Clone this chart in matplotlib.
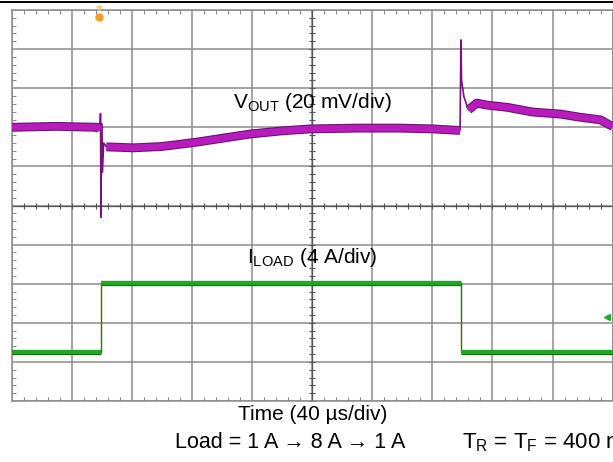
import numpy as np
import matplotlib
matplotlib.use("Agg")
import matplotlib.pyplot as plt
import matplotlib.patheffects as pe
from matplotlib.lines import Line2D

plt.rcParams['font.family'] = ['Liberation Sans', 'DejaVu Sans']
plt.rcParams['mathtext.default'] = 'regular'

# ---- scope settings (from the labels) ----
mv_per_div = 20     # VOUT channel
a_per_div = 4       # ILOAD channel
us_per_div = 40     # time base

# ---- VOUT trace (time in us, deviation in mV) ----
vout_t = [0, 30, 57.5, 58.7, 59.1, 59.4, 59.8, 60.4, 61.2, 63, 81, 100, 123, 140,
          159, 180, 199, 230, 258, 280, 298.4, 299.0, 299.4, 301, 304, 309.5,
          316, 330, 347, 365, 378, 392, 398, 400]
vout_mv = [0, 0.5, 0, -1.5, 7, -46, 2, -23, -8, -10, -10.5, -9.8, -7.6, -5.6,
           -3.4, -1.8, -0.8, -0.4, -0.4, -0.8, -1.6, 44.7, 24, 15.6, 8.9, 12.4,
           11.4, 10.2, 7.8, 6.8, 5.2, 3.8, 1.2, 0.5]

# ---- ILOAD trace (time in us, current in A) ----
iload_t = [0, 59.2, 59.2, 299.0, 299.0, 400]
iload_a = [1, 1, 8, 8, 1, 1]

step_times = [59.2, 299.0]

fig = plt.figure(figsize=(6.13, 4.62), dpi=100)
ax = fig.add_axes([0.0191, 0.132, 0.9804, 0.8463])

# channel offsets: VOUT 0 mV at 7 div, ILOAD 0 A at 1.01 div
ax.set_xlim(0, 10 * us_per_div)
ax.set_ylim(-7 * mv_per_div, 3 * mv_per_div)

grid_col = '#8c8c8c'
ax.set_xticks(np.arange(0, 401, us_per_div))
ax.set_yticks(np.arange(-140, 61, mv_per_div))
ax.set_xticks(np.arange(0, 401, us_per_div / 5), minor=True)
ax.set_yticks(np.arange(-140, 61, mv_per_div / 5), minor=True)
ax.tick_params(which='both', direction='in', top=True, right=True,
               labelbottom=False, labelleft=False, color=grid_col)
ax.tick_params(which='major', length=0)
ax.tick_params(which='minor', length=3, width=0.8)
ax.grid(True, which='major', color=grid_col, lw=1.1)
ax.set_axisbelow(True)
for s in ax.spines.values():
    s.set_color(grid_col)
    s.set_linewidth(1.1)

# center cross with small ticks
cx = 5 * us_per_div
cy = -2 * mv_per_div
ax.axvline(cx, color='#555555', lw=0.9, zorder=1)
ax.axhline(cy, color='#555555', lw=0.9, zorder=1)
xs = np.arange(0, 401, us_per_div / 5)
ys = np.arange(-140, 61, mv_per_div / 5)
ax.plot(xs, [cy] * len(xs), ls='none', marker='|', ms=4, color='#555555', mew=0.8, zorder=1)
ax.plot([cx] * len(ys), ys, ls='none', marker='_', ms=4, color='#555555', mew=0.8, zorder=1)

# VOUT: thin line for the whole trace, thick band away from the spikes
vt = np.array(vout_t, dtype=float)
vm = np.array(vout_mv, dtype=float)
band = vm.copy()
for st in step_times:
    band[(vt > st - 0.3) & (vt < st + 2.5)] = np.nan
ax.plot(vt, vm, color='#7a1080', lw=1.2, zorder=3)
ax.plot(vt, band, color='#b81cbc', lw=4.8, solid_capstyle='butt', zorder=3,
        path_effects=[pe.Stroke(linewidth=6.4, foreground='#6a1474'), pe.Normal()])

# ILOAD on its own scale
ax2 = ax.twinx()
ax2.set_ylim(-1.01 * a_per_div, 8.99 * a_per_div)
ax2.axis('off')
ax2.plot(iload_t, iload_a, color='#1a7a1a', lw=1.0, zorder=3)
for i in range(len(iload_t) - 1):
    if iload_a[i] == iload_a[i + 1] and iload_t[i] != iload_t[i + 1]:
        ax2.plot([iload_t[i], iload_t[i + 1]], [iload_a[i], iload_a[i]],
                 color='#22a822', lw=2.8, solid_capstyle='butt', zorder=3,
                 path_effects=[pe.Stroke(linewidth=3.8, foreground='#137013'), pe.Normal()])

# scope markers
ax.plot([58.1], [0.982], transform=ax.get_xaxis_transform(), marker='o', ms=5,
        color='#f0a020', mec='#f0a020', clip_on=False, zorder=4)
ax.plot([58.1], [1.004], transform=ax.get_xaxis_transform(), marker='v', ms=3,
        color='#f8c870', clip_on=False, zorder=4)
ax.plot([0.99], [0.215], transform=ax.transAxes, marker='<', ms=4,
        color='#22a822', clip_on=False, zorder=4)

# labels
ax.text(0.5, 0.749, 'V$_{OUT}$ (20 mV/div)', transform=ax.transAxes,
        ha='center', va='baseline', fontsize=15)
ax.text(0.5, 0.353, 'I$_{LOAD}$ (4 A/div)', transform=ax.transAxes,
        ha='center', va='baseline', fontsize=15)
ax.text(0.5, -0.049, 'Time (40 µs/div)', transform=ax.transAxes,
        ha='center', va='baseline', fontsize=15)
ax.text(0.463, -0.12, 'Load = 1 A → 8 A → 1 A', transform=ax.transAxes,
        ha='center', va='baseline', fontsize=15.5)
ax.text(0.749, -0.12, 'T$_{R}$ = T$_{F}$ = 400 ns', transform=ax.transAxes,
        ha='left', va='baseline', fontsize=16)

# black rule along the top of the picture
fig.add_artist(Line2D([0, 1], [0.9957, 0.9957], transform=fig.transFigure,
                      color='black', lw=1.4))

fig.savefig('out.png', dpi=100)
